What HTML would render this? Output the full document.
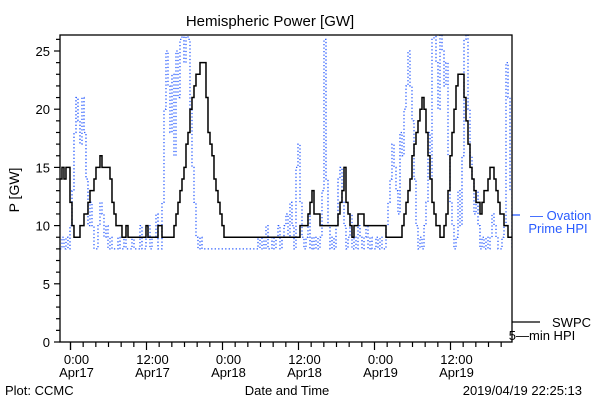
<!DOCTYPE html>
<html><head><meta charset="utf-8"><style>
body{margin:0;background:#fff;}
svg text{font-family:"Liberation Sans",sans-serif;}
</style></head><body>
<svg width="600" height="400" xmlns="http://www.w3.org/2000/svg" id="chart">
<rect width="600" height="400" fill="#fff"/>
<text x="270" y="26" font-size="15" text-anchor="middle">Hemispheric Power [GW]</text>
<text transform="translate(19,190) rotate(-90)" font-size="14" text-anchor="middle">P [GW]</text>
<text x="287" y="395" font-size="13" text-anchor="middle">Date and Time</text>
<text x="5" y="395" font-size="13">Plot: CCMC</text>
<text x="582" y="395" font-size="13" text-anchor="end">2019/04/19 22:25:13</text>
<g>
<line x1="512" y1="215" x2="520" y2="215" stroke="#2a5cff" stroke-width="1.3"/>
<text x="530" y="220" font-size="13" fill="#2a5cff">— Ovation</text>
<text x="558" y="233" font-size="13" fill="#2a5cff" text-anchor="middle">Prime HPI</text>
</g>
<g>
<line x1="512" y1="322" x2="540" y2="322" stroke="#000" stroke-width="1.3"/>
<text x="552" y="327" font-size="13">SWPC</text>
<text x="542" y="340" font-size="13" text-anchor="middle">5—min HPI</text>
</g>
<defs><clipPath id="pc"><rect x="60" y="35" width="452" height="307"/></clipPath></defs>
<g id="series" clip-path="url(#pc)"></g>
<g id="axes"></g>
<rect x="60" y="35" width="452" height="307" fill="none" stroke="#000" stroke-width="1.3"/>
</svg>
<script>
const startHour = -1.66;
const stepHours = 0.3158;
const swpcValues = [14,15,14,15,15,12,10,9,9,9,10,10,11,11,12,13,13,14,15,15,16,15,15,15,15,14,12,11,10,10,10,9,9,10,
9,9,9,9,9,9,9,9,9,10,9,9,9,9,9,10,10,9,9,9,9,9,9,
10,11,12,13,14,15,17,18,20,21,22,23,23,24,24,24,21,18,17,16,14,13,12,11,10,9,
9,9,9,9,9,9,9,9,9,9,9,9,9,9,9,9,9,9,9,9,9,9,9,9,9,9,9,9,9,9,9,9,9,9,9,9,9,
10,10,10,10,11,12,13,11,11,11,10,10,10,10,10,10,10,10,10,11,12,13,15,12,11,10,9,10,10,11,11,11,
10,10,10,10,10,10,10,10,10,10,10,9,9,9,9,9,9,9,9,
10,11,12,13,14,16,17,18,19,20,21,20,18,16,14,12,11,10,10,9,9,10,11,13,16,18,20,22,23,23,23,21,19,17,15,14,13,12,12,11,12,13,13,14,15,15,14,13,12,11,11,10,10,9,9,9];
const ovationValues = [8,9,8,9,8,10,13,18,21,19,17,21,18,14,10,12,10,8,8,10,12,11,9,10,8,9,8,8,8,9,8,8,9,8,8,8,9,8,8,8,10,8,8,9,10,8,9,9,11,8,8,12,20,25,22,18,23,16,25,21,26,27,24,27,26,20,15,12,9,8,9,8,
8,8,8,8,8,8,8,8,8,8,8,8,8,8,8,8,8,8,8,8,8,8,8,8,8,8,8,
9,8,9,8,10,8,8,9,8,9,10,8,9,10,11,9,12,10,8,15,17,12,9,8,9,11,8,9,8,9,8,9,13,26,14,10,8,9,8,10,14,15,12,10,8,9,11,8,9,8,10,9,8,9,10,8,9,8,8,9,8,9,8,8,10,12,14,17,15,13,11,18,16,20,22,25,22,19,14,10,8,9,8,10,12,18,14,26,27,24,20,27,25,22,24,16,12,10,8,9,13,10,16,26,27,20,16,14,11,13,10,8,9,8,9,8,9,11,10,9,8,8,9,10,24,21,13,8];
const yTickLabels = ["0","5","10","15","20","25"];
const xTickHours = [0,12,24,36,48,60];
const xTickLabels = [["0:00","Apr17"],["12:00","Apr17"],["0:00","Apr18"],["12:00","Apr18"],["0:00","Apr19"],["12:00","Apr19"]];

const NS="http://www.w3.org/2000/svg";
const x=h=>70.5+h*(76/12);
const y=v=>342-v*(291/25);
function mk(tag,attrs,parent){const e=document.createElementNS(NS,tag);for(const k in attrs)e.setAttribute(k,attrs[k]);parent.appendChild(e);return e;}
function stepPath(vals){let d="";vals.forEach((v,i)=>{const h=startHour+i*stepHours;const X=x(h),Y=y(v);
 if(i===0)d+="M"+X+","+Y;else d+="H"+X+"V"+Y;});d+="H"+x(startHour+vals.length*stepHours);return d;}
const series=document.getElementById('series');
const ov=mk('path',{d:stepPath(ovationValues),fill:'none',stroke:'#2a5cff','stroke-width':1.3,'stroke-dasharray':'1.3 2.2'},series);


const sw=mk('path',{d:stepPath(swpcValues),fill:'none',stroke:'#000','stroke-width':1.5},series);


const axes=document.getElementById('axes');
for(let v=0;v<=26;v++){const t=mk('line',{x1:v%5===0?54:56,x2:60,y1:y(v),y2:y(v),stroke:'#000','stroke-width':1.2},axes);
 
 }
yTickLabels.forEach((s,i)=>{const t=mk('text',{x:50,y:y(i*5)+5,'font-size':13,'text-anchor':'end'},axes);t.textContent=s;
 
 });
for(let h=-0;h<=72;h+=2){for(const hh of [h,-h]){const X=x(hh);if(X<60||X>512||(hh<0&&h===0&&hh!==0))continue;
 const t=mk('line',{x1:X,x2:X,y1:342,y2:hh%12===0?350:347,stroke:'#000','stroke-width':1.2},axes);
 
 }}
xTickHours.forEach((h,i)=>{const g=mk('text',{x:x(h)+6,y:364,'font-size':13,'text-anchor':'middle'},axes);
 
 
 const a=mk('tspan',{x:x(h)+6,dy:0},g);a.textContent=xTickLabels[i][0];
 const b=mk('tspan',{x:x(h)+6,dy:13},g);b.textContent=xTickLabels[i][1];});
</script>
</body></html>
